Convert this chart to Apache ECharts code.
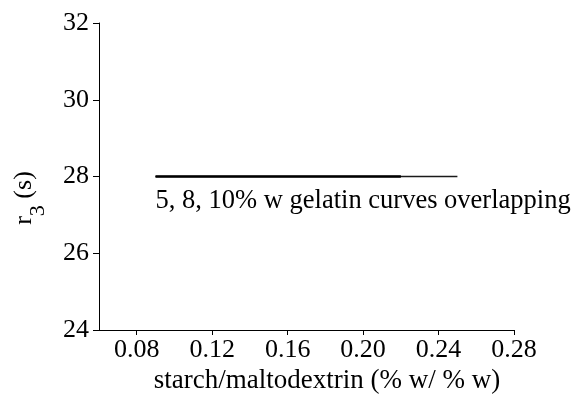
<!DOCTYPE html>
<html>
<head>
<meta charset="utf-8">
<script src="https://cdn.jsdelivr.net/npm/echarts@6/dist/echarts.min.js"></script>
<style>
html,body{margin:0;padding:0;background:#fff;}
#chart{width:584px;height:405px;}
</style>
</head>
<body>
<div id="chart"></div>
<script>
// Data
const xTicks = [0.08, 0.12, 0.16, 0.20, 0.24, 0.28];
const yTicks = [24, 26, 28, 30, 32];
const gel5X = [0.09, 0.13, 0.17, 0.22];
const gel5Y = [28, 28, 28, 28];
const gel8X = [0.09, 0.13, 0.17, 0.22];
const gel8Y = [28, 28, 28, 28];
const gel10X = [0.09, 0.13, 0.17, 0.21, 0.25];
const gel10Y = [28, 28, 28, 28, 28];
const noteText = '5, 8, 10% w gelatin curves overlapping';
const xTitle = 'starch/maltodextrin (% w/ % w)';

const FONT = '"Liberation Serif", "Times New Roman", serif';
const pairs = (xs, ys) => xs.map((x, i) => [x, ys[i]]);

const chart = echarts.init(document.getElementById('chart'), null, {renderer: 'canvas'});
const axisCommon = {
  axisLine: {show: true, lineStyle: {color: '#000', width: 1}},
  splitLine: {show: false},
};
chart.setOption({
  animation: false,
  backgroundColor: '#fff',
  grid: {left: 99, right: 70, top: 23, bottom: 75},
  xAxis: Object.assign({}, axisCommon, {
    type: 'value', min: 0.06, max: 0.28,
    axisTick: {show: true, length: 5, lineStyle: {color: '#000'}, customValues: xTicks},
    axisLabel: {customValues: xTicks, margin: 7, color: '#000', fontFamily: FONT, fontSize: 26,
      formatter: v => v.toFixed(2)}
  }),
  yAxis: Object.assign({}, axisCommon, {
    type: 'value', min: 24, max: 32, interval: 2,
    axisTick: {show: true, length: 6, lineStyle: {color: '#000'}, customValues: yTicks},
    axisLabel: {customValues: yTicks, margin: 10, color: '#000', fontFamily: FONT, fontSize: 26}
  }),
  series: [
    {name: '10% w gelatin', type: 'line', data: pairs(gel10X, gel10Y), showSymbol: false,
      lineStyle: {color: '#1a1a1a', width: 1.6}, z: 2},
    {name: '8% w gelatin', type: 'line', data: pairs(gel8X, gel8Y), showSymbol: false,
      lineStyle: {color: '#000', width: 2}, z: 3},
    {name: '5% w gelatin', type: 'line', data: pairs(gel5X, gel5Y), showSymbol: false,
      lineStyle: {color: '#000', width: 2}, z: 4}
  ]
});

const p0 = chart.convertToPixel({gridIndex: 0}, [gel5X[0], gel5Y[0]]);
chart.setOption({
  graphic: [
    {type: 'text', x: p0[0], y: p0[1] + 25, style: {text: noteText, fill: '#000',
      font: '26.5px ' + FONT, textAlign: 'left', textVerticalAlign: 'middle'}},
    {type: 'text', x: 327, y: 381, style: {text: xTitle, fill: '#000',
      font: '27px ' + FONT, textAlign: 'center', textVerticalAlign: 'middle'}},
    {type: 'text', x: 30, y: 198, rotation: Math.PI / 2, style: {
      text: '{a|r}{s|3}{a| (s)}', textAlign: 'center', textVerticalAlign: 'middle',
      rich: {
        a: {fontFamily: FONT, fontSize: 26, fill: '#000', verticalAlign: 'top', lineHeight: 26},
        s: {fontFamily: FONT, fontSize: 22, fill: '#000', verticalAlign: 'bottom', lineHeight: 38}
      }}}
  ]
});
</script>
</body>
</html>
